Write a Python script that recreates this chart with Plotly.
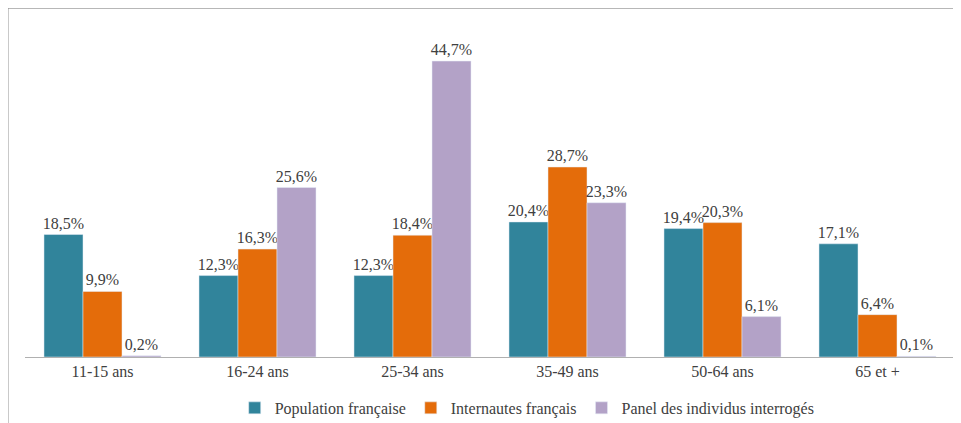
import plotly.graph_objects as go

# Age groups and shares (%)
categories = ["11-15 ans", "16-24 ans", "25-34 ans", "35-49 ans", "50-64 ans", "65 et +"]
population = [18.5, 12.3, 12.3, 20.4, 19.4, 17.1]
internautes = [9.9, 16.3, 18.4, 28.7, 20.3, 6.4]
panel = [0.2, 25.6, 44.7, 23.3, 6.1, 0.1]

series_names = ["Population française", "Internautes français", "Panel des individus interrogés"]
colors = ["#31849B", "#E46C0A", "#B3A2C7"]

serif = "Liberation Serif, Times New Roman, serif"

fig = go.Figure()

for name, values, color in zip(series_names, [population, internautes, panel], colors):
    fig.add_trace(go.Bar(
        x=categories,
        y=values,
        name=name,
        marker_color=color,
        text=[f"{v:.1f}%".replace(".", ",") for v in values],
        textposition="outside",
        textfont=dict(family=serif, size=16, color="#404040"),
        cliponaxis=False,
    ))

fig.update_layout(
    width=961,
    height=423,
    barmode="group",
    bargap=0.245,
    bargroupgap=0,
    plot_bgcolor="white",
    paper_bgcolor="white",
    margin=dict(l=17, r=14, t=18, b=74, autoexpand=False),
    font=dict(family=serif, size=16, color="#404040"),
    uniformtext=dict(minsize=16, mode="show"),
    legend=dict(
        orientation="h",
        x=0.54, xanchor="center",
        y=-0.154, yanchor="middle",
        font=dict(family=serif, size=16, color="#404040"),
        itemwidth=30,
        tracegroupgap=0,
    ),
    shapes=[
        # outer chart border
        dict(type="rect", xref="paper", yref="paper",
             x0=-0.0183, x1=1.2, y0=-0.4, y1=1.054,
             line=dict(color="#8c8c8c", width=1), layer="below"),
    ],
)

fig.update_xaxes(
    showline=True, linecolor="#b0b0b0", linewidth=1,
    ticks="", showgrid=False,
    tickfont=dict(family=serif, size=16, color="#404040"),
)
fig.update_yaxes(
    range=[0, 50], visible=False, showgrid=False, zeroline=False,
)

fig.write_html("out.html")
